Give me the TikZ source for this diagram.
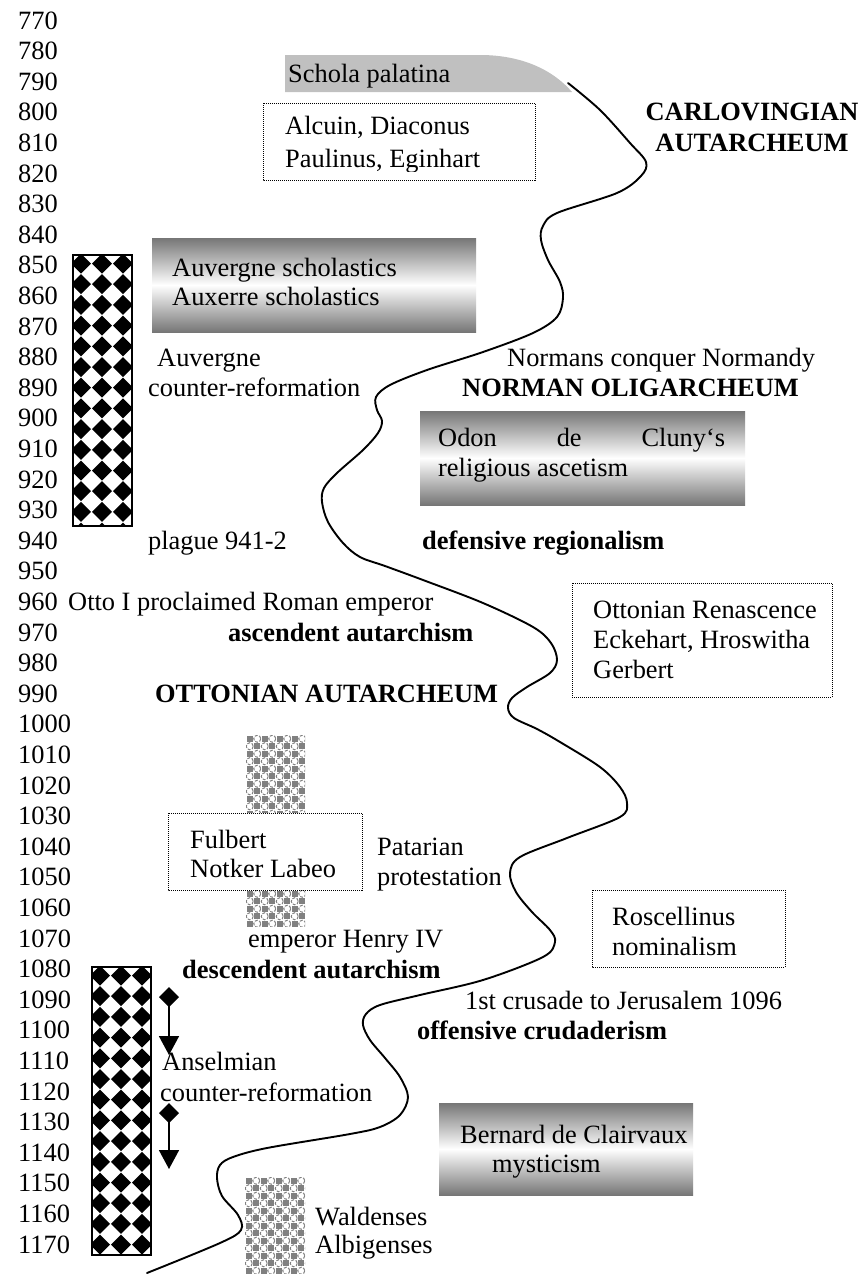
\documentclass[tikz,border=0pt]{standalone}
\usepackage{fontspec}
\setmainfont{Liberation Serif}
\usetikzlibrary{arrows.meta}
\definecolor{gbgray}{RGB}{118,118,118}
\definecolor{schgray}{RGB}{192,192,192}
\definecolor{chkgray}{RGB}{128,128,128}
\newcommand{\diamondbar}[5]{% x0,y0,x1,y1,rows
  \begin{scope}
    \clip (#1,#2) rectangle (#3,#4);
    \fill[white] (#1,#2) rectangle (#3,#4);
    \foreach \r in {0,...,#5}{\foreach \c in {0,1,2}{
      \pgfmathsetmacro\cx{#1+8+21*\c}
      \pgfmathsetmacro\cy{#2+8.5+20.7*\r}
      \fill ({\cx},{\cy-10}) .. controls ({\cx+4.5},{\cy-4.5}) .. ({\cx+10},{\cy})
        .. controls ({\cx+4.5},{\cy+4.5}) .. ({\cx},{\cy+10})
        .. controls ({\cx-4.5},{\cy+4.5}) .. ({\cx-10},{\cy})
        .. controls ({\cx-4.5},{\cy-4.5}) .. ({\cx},{\cy-10}) -- cycle;
    }}
  \end{scope}
  \draw[line width=1.3pt] (#1,#2) rectangle (#3,#4);
}
\newcommand{\graychk}[4]{% x0,y0,x1,y1
  \begin{scope}
    \clip (#1,#2) rectangle (#3,#4);
    \fill[white] (#1,#2) rectangle (#3,#4);
    \foreach \i in {0,...,8}{\foreach \j in {0,...,13}{
      \pgfmathtruncatemacro\pp{mod(\i+\j,2)}
      \ifnum\pp=0
        \fill[chkgray] ({#1+7.5*\i+0.7},{#2+7.5*\j+0.7}) rectangle +(6.1,6.1);
      \else
        \draw[chkgray, line width=1pt, dash pattern=on 3pt off 1.5pt] ({#1+7.5*\i+3.75},{#2+7.5*\j+3.75}) circle (3.5);
      \fi
    }}
  \end{scope}
}
\begin{document}
\begin{tikzpicture}[x=1pt,y=-1pt,
  font=\fontsize{26.4}{30.6}\selectfont,
  txt/.style={inner sep=0pt, anchor=base west},
  bt/.style={txt, font=\fontsize{26.4}{30.6}\selectfont\bfseries},
  dotbox/.style={densely dotted, line width=1pt},
  gradbox/.style={top color=gbgray, bottom color=gbgray, middle color=white},
  curve/.style={line width=1.9pt, line join=round, line cap=round},
  arr/.style={line width=1.7pt, {Diamond[length=20pt,width=20pt]}-{Triangle[length=19pt,width=20pt]}}
]
\useasboundingbox (0,0) rectangle (861,1275);
\fill[white] (0,0) rectangle (861,1275);

% year labels
\foreach \i in {0,...,40}{
  \pgfmathtruncatemacro\yr{770+10*\i}
  \node[txt] (yr\yr) at (18,{29+30.6*\i}) {\yr};
}

% Schola palatina
\fill[schgray] (285,55) -- (480,55) .. controls (522,55) and (553,70) .. (572,92) -- (285,92) -- cycle;
\node[txt] (schola) at (288,82) {Schola palatina};

% Alcuin box
\draw[dotbox] (263,103) rectangle (535,180);
\node[txt] (alc1) at (285,134) {Alcuin, Diaconus};
\begin{scope}
  \clip (263,103) rectangle (535,171);
  \node[txt] (alc2) at (285,167) {Paulinus, Eginhart};
\end{scope}

% Carlovingian
\node[bt, anchor=base] (carl1) at (752,120) {CARLOVINGIAN};
\node[bt, anchor=base] (carl2) at (752,151) {AUTARCHEUM};

% diamond bars
\diamondbar{73}{255}{132}{526}{13}
\diamondbar{92}{967}{151}{1255}{14}

% Auvergne scholastics box
\shade[gradbox] (152,238) rectangle (476,332);
\node[txt] (auvs) at (172,276) {Auvergne scholastics};
\node[txt] (auxs) at (172,305) {Auxerre scholastics};

\node[txt] (auv1) at (157,366) {Auvergne};
\node[txt] (auv2) at (148,396) {counter-reformation};

\node[txt] (norm1) at (507,366) {Normans conquer Normandy};
\node[bt] (norm2) at (462,396) {NORMAN OLIGARCHEUM};

% Odon box
\shade[gradbox] (420,411) rectangle (745,505);
\node[txt] (odon1) at (438,446) {\makebox[287pt][s]{Odon de Cluny‘s}};
\node[txt] (odon2) at (438,476) {religious ascetism};

\node[txt] (plague) at (148,549) {plague 941-2};
\node[bt] (defreg) at (422,549) {defensive regionalism};

\node[txt] (otto) at (68,610) {Otto I proclaimed Roman emperor};
\node[bt] (ascaut) at (228,641) {ascendent autarchism};
\node[bt] (ottaut) at (155,702) {OTTONIAN AUTARCHEUM};

% Ottonian Renascence box
\draw[dotbox] (572,583) rectangle (832,697);
\node[txt] (oren1) at (593,618) {Ottonian Renascence};
\node[txt] (oren2) at (593,648) {Eckehart, Hroswitha};
\node[txt] (oren3) at (593,678) {Gerbert};

% gray checker blocks
\graychk{246}{735}{305}{813}
\graychk{246}{890}{305}{926}
\graychk{245}{1177}{305}{1273}

% Fulbert box
\fill[white] (168,813) rectangle (362,890);
\draw[dotbox] (168,813) rectangle (362,890);
\node[txt] (fulb1) at (190,848) {Fulbert};
\node[txt] (fulb2) at (190,877) {Notker Labeo};

\node[txt] (pat1) at (377,855) {Patarian};
\node[txt] (pat2) at (377,885) {protestation};

\node[txt] (henry) at (248,947) {emperor Henry IV};
\node[bt] (desaut) at (182,978) {descendent autarchism};

% Roscellinus box
\draw[dotbox] (592,890) rectangle (785,967);
\node[txt] (rosc1) at (612,925) {Roscellinus};
\node[txt] (rosc2) at (612,955) {nominalism};

\node[txt] (crus) at (465,1009) {1st crusade to Jerusalem 1096};
\node[bt] (offcr) at (417,1039) {offensive crudaderism};

% arrows
\coordinate (a1s) at (169,987);
\coordinate (a1e) at (169,1055);
\coordinate (a2s) at (169,1103);
\coordinate (a2e) at (169,1169);
\draw[arr] (a1s) -- (a1e);
\draw[arr] (a2s) -- (a2e);

\node[txt] (ans1) at (162,1070) {Anselmian};
\node[txt] (ans2) at (160,1101) {counter-reformation};

% Bernard box
\shade[gradbox] (439,1103) rectangle (693,1195);
\node[txt] (bern1) at (460,1143) {Bernard de Clairvaux};
\node[txt] (bern2) at (492,1172) {mysticism};

\node[txt] (wald) at (315,1225) {Waldenses};
\node[txt] (albi) at (315,1253) {Albigenses};

% the main curve
\draw[curve] plot[smooth, tension=0.55] coordinates {
 (568,83) (600,110) (630,143) (646,162) (641,176) (617,193) (557,213) (543,226)
 (541,240) (548,260) (560,282) (563,298) (557,317) (533,333) (483,352) (427,370)
 (390,385) (376,397) (377,410) (382,421) (378,433) (363,450) (337,473) (324,488)
 (322,502) (328,522) (343,543) (360,557) (385,566) (423,580) (483,603) (533,627)
 (551,643) (557,660) (550,673) (527,687) (512,698) (508,708) (514,718) (537,729)
 (560,742) (600,767) (620,787) (627,803) (620,817) (567,838) (520,857) (510,873)
 (516,892) (532,912) (550,930) (555,942) (543,957) (483,980) (420,995) (380,1005)
 (366,1014) (363,1025) (370,1040) (385,1058) (400,1077) (408,1097) (400,1115)
 (380,1127) (350,1134) (267,1148) (233,1157) (220,1165) (217,1178) (222,1196)
 (238,1215) (241,1230) (220,1243) (147,1273)
};
\end{tikzpicture}
\end{document}
